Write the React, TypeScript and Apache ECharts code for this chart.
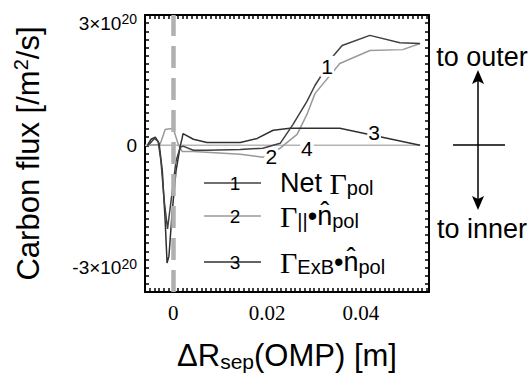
import React, { useEffect, useRef } from "react";
import * as echarts from "echarts";

// x in metres, y in units of 1e20 /m^2/s
const netX = [-0.0055, -0.0049, -0.004, -0.0032, -0.0026, -0.0019, -0.0012, -0.0002, 0.0006, 0.0015, 0.0021, 0.0043, 0.0072, 0.0143, 0.0191, 0.0228, 0.0255, 0.0285, 0.0302, 0.0328, 0.034, 0.036, 0.0419, 0.0483, 0.0526];
const netY = [0, 0.05, 0.17, 0.1, -0.39, -1.37, -2.05, -1.13, -0.39, -0.05, -0.02, -0.12, -0.12, -0.1, -0.07, 0.05, 0.51, 1.08, 1.47, 1.94, 2.18, 2.45, 2.7, 2.52, 2.5];
const netLabelIdx = 19;

const parX = [-0.0055, -0.0028, -0.0017, 0, 0.0011, 0.0019, 0.0043, 0.0143, 0.0191, 0.0209, 0.0228, 0.0264, 0.0285, 0.0302, 0.0355, 0.0419, 0.0489, 0.0526];
const parY = [0, 0.02, 0.39, 0.42, 0.02, -0.15, -0.15, -0.22, -0.29, -0.2, -0.07, 0.27, 0.76, 1.27, 2.01, 2.33, 2.35, 2.5];
const parLabelIdx = 9;

const exbX = [-0.0055, -0.0047, -0.0038, -0.003, -0.0023, -0.0017, -0.0013, -0.0009, -0.0002, 0.0006, 0.0015, 0.0019, 0.0021, 0.0043, 0.0072, 0.0143, 0.0179, 0.0213, 0.0249, 0.0355, 0.0428, 0.0526];
const exbY = [0, 0.15, 0.2, 0.05, -0.64, -1.86, -2.89, -2.72, -1.62, -0.64, -0.02, 0.17, 0.29, 0.15, 0.07, 0.07, 0.17, 0.37, 0.42, 0.42, 0.24, 0];
const exbLabelIdx = 20;

const zeroX = [-0.006, 0.0285, 0.0526];
const zeroY = [0, 0, 0];
const zeroLabelIdx = 1;

const separatrixX = -0.00064;
const xMin = -0.006;
const xMax = 0.0545;
const yMin = -3.6;
const yMax = 3.2;
const xLabelValues = [0, 0.02, 0.04];
const yLabelValues = [-3, 0, 3];
const xTickStep = 0.001;
const yTickStep = 0.2;

function buildData(xs: number[], ys: number[], labelIdx: number, text: string, offset: number[]) {
  return xs.map((x, i) => {
    if (i !== labelIdx) return [x, ys[i]];
    return {
      value: [x, ys[i]],
      label: {
        show: true,
        formatter: text,
        position: "inside",
        offset,
        fontSize: 21,
        fontFamily: "Liberation Sans",
        color: "#000",
        backgroundColor: "#fff",
        padding: [0, 1],
      },
    };
  });
}

const SANS = "Liberation Sans";
const SERIF = "Liberation Serif";

const GRID = { left: 145, top: 15, right: 103, bottom: 96 };
const GRID_W = 532 - GRID.left - GRID.right;
const GRID_H = 388 - GRID.top - GRID.bottom;

export default function App() {
  const ref = useRef<HTMLDivElement>(null);
  useEffect(() => {
    const chart = echarts.init(ref.current!, null, { renderer: "svg" });
    const axisLine = { show: true, onZero: false, lineStyle: { color: "#000", width: 2 } };
    const noTick = { show: false };
    const outTick = { show: true, inside: false, length: 4, interval: 0, lineStyle: { color: "#000", width: 1.5 } };
    const lineSeries = (name: string, data: any[], color: string, z = 2) => ({
      name,
      type: "line",
      data,
      symbol: "circle",
      symbolSize: 0,
      showSymbol: true,
      lineStyle: { color, width: 1.5 },
      itemStyle: { color },
      z,
      label: { show: false },
    });
    // tick-only axes, moved to the opposite edge so that their outward ticks point into the plot
    const xTickAxis = (position: string) => ({
      type: "value",
      min: xMin,
      max: xMax,
      interval: xTickStep,
      position,
      offset: -GRID_H,
      axisLine: { show: false, onZero: false },
      axisTick: outTick,
      axisLabel: { show: false },
      splitLine: { show: false },
    });
    const yTickAxis = (position: string) => ({
      type: "value",
      min: yMin,
      max: yMax,
      interval: yTickStep,
      position,
      offset: -GRID_W,
      axisLine: { show: false, onZero: false },
      axisTick: outTick,
      axisLabel: { show: false },
      splitLine: { show: false },
    });
    const legendRich = {
      a: { fontFamily: SANS, fontSize: 27, color: "#000", lineHeight: 30 },
      g: { fontFamily: SERIF, fontSize: 30, color: "#000", lineHeight: 30 },
      s: { fontFamily: SANS, fontSize: 20, color: "#000", lineHeight: 12, verticalAlign: "bottom" },
    };
    const legendItems = [
      { num: "1", color: "#404040", text: "{a|Net }{g|Γ}{s|pol}", y: 183 },
      { num: "2", color: "#9a9a9a", text: "{g|Γ}{s|||}{a|•n\u0302}{s|pol}", y: 216 },
      { num: "3", color: "#303030", text: "{g|Γ}{s|ExB}{a|•n\u0302}{s|pol}", y: 262 },
    ];
    const graphic: any[] = [];
    legendItems.forEach((it) => {
      graphic.push({ type: "line", shape: { x1: 204, y1: it.y, x2: 261, y2: it.y }, style: { stroke: it.color, lineWidth: 1.5 } });
      graphic.push({ type: "text", x: 235, y: it.y, style: { text: it.num, font: `19px ${SANS}`, fill: "#000", align: "center", verticalAlign: "middle" } });
      graphic.push({ type: "text", x: 280, y: it.y, style: { text: it.text, rich: legendRich, align: "left", verticalAlign: "middle" } });
    });
    graphic.push(
      { type: "text", x: 482, y: 57, style: { text: "to outer", font: `27px ${SANS}`, fill: "#000", align: "center", verticalAlign: "middle" } },
      { type: "text", x: 482, y: 229, style: { text: "to inner", font: `27px ${SANS}`, fill: "#000", align: "center", verticalAlign: "middle" } },
      { type: "line", shape: { x1: 478, y1: 78, x2: 478, y2: 202 }, style: { stroke: "#000", lineWidth: 1.5 } },
      { type: "polygon", shape: { points: [[478, 70], [472, 84], [478, 81], [484, 84]] }, style: { fill: "#000" } },
      { type: "polygon", shape: { points: [[478, 210], [472, 196], [478, 199], [484, 196]] }, style: { fill: "#000" } },
      { type: "line", shape: { x1: 453, y1: 145, x2: 505, y2: 145 }, style: { stroke: "#000", lineWidth: 1.5 } }
    );

    chart.setOption({
      animation: false,
      grid: GRID,
      xAxis: [
        {
          type: "value",
          min: xMin,
          max: xMax,
          position: "bottom",
          axisLine,
          splitLine: { show: false },
          axisTick: noTick,
          axisLabel: {
            customValues: xLabelValues,
            fontFamily: SERIF,
            fontSize: 21,
            color: "#000",
            margin: 10,
            formatter: (v: number) => String(+v.toFixed(3)),
          },
          name: "{a|ΔR}{s|sep}{a|(OMP) [m]}",
          nameLocation: "middle",
          nameGap: 46,
          nameTextStyle: {
            rich: {
              a: { fontFamily: SANS, fontSize: 31, color: "#000", lineHeight: 34 },
              s: { fontFamily: SANS, fontSize: 21, color: "#000", lineHeight: 14, verticalAlign: "bottom" },
            },
          },
        },
        {
          type: "value",
          min: xMin,
          max: xMax,
          position: "top",
          axisLine,
          splitLine: { show: false },
          axisTick: noTick,
          axisLabel: { show: false },
        },
        xTickAxis("top"),
        xTickAxis("bottom"),
      ],
      yAxis: [
        {
          type: "value",
          min: yMin,
          max: yMax,
          position: "left",
          axisLine,
          splitLine: { show: false },
          axisTick: noTick,
          axisLabel: {
            customValues: yLabelValues,
            margin: 8,
            formatter: (v: number) => {
              const r = Math.round(v);
              return r === 0 ? "{a|0}" : `{a|${r}×10}{s|20}`;
            },
            rich: {
              a: { fontFamily: SANS, fontSize: 19, color: "#000", lineHeight: 22 },
              s: { fontFamily: SANS, fontSize: 14, color: "#000", lineHeight: 12, verticalAlign: "top" },
            },
          },
          name: "{a|Carbon flux [/m}{s|2}{a|/s]}",
          nameLocation: "middle",
          nameGap: 100,
          nameRotate: 90,
          nameTextStyle: {
            rich: {
              a: { fontFamily: SANS, fontSize: 31, color: "#000", lineHeight: 34 },
              s: { fontFamily: SANS, fontSize: 20, color: "#000", lineHeight: 20, verticalAlign: "top" },
            },
          },
        },
        {
          type: "value",
          min: yMin,
          max: yMax,
          position: "right",
          axisLine,
          splitLine: { show: false },
          axisTick: noTick,
          axisLabel: { show: false },
        },
        yTickAxis("right"),
        yTickAxis("left"),
      ],
      series: [
        lineSeries("zero", buildData(zeroX, zeroY, zeroLabelIdx, "4", [0, 3]), "#b5b5b5", 1),
        lineSeries("parallel", buildData(parX, parY, parLabelIdx, "2", [0, 3]), "#9a9a9a", 2),
        lineSeries("exb", buildData(exbX, exbY, exbLabelIdx, "3", [0, -3]), "#303030", 3),
        lineSeries("net", buildData(netX, netY, netLabelIdx, "1", [0, 0]), "#404040", 4),
        {
          name: "sep",
          type: "line",
          data: [],
          z: 5,
          markLine: {
            silent: true,
            symbol: ["none", "none"],
            label: { show: false },
            lineStyle: { type: [22, 10], color: "#b0b0b0", width: 4.5 },
            data: [{ xAxis: separatrixX }],
          },
        },
      ],
      graphic,
    });
    return () => chart.dispose();
  }, []);
  return <div ref={ref} style={{ width: 532, height: 388, position: "absolute", left: 0, top: 0 }} />;
}
